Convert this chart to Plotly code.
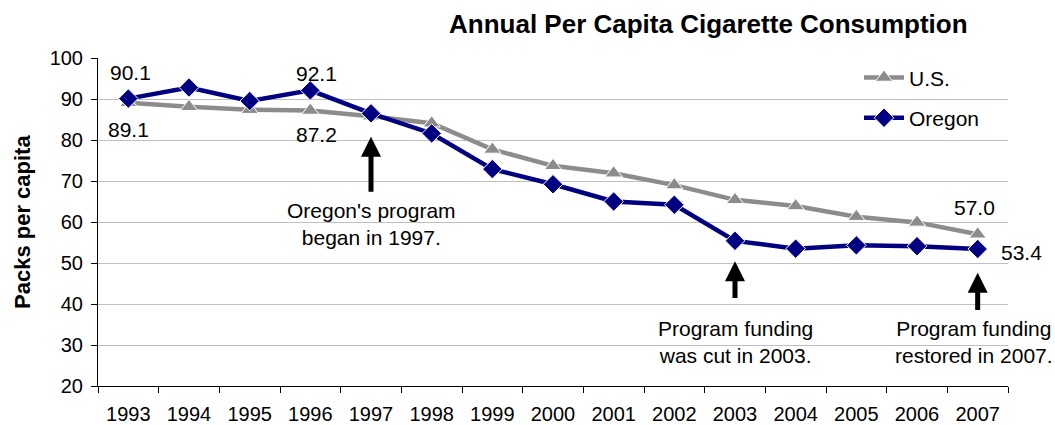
import plotly.graph_objects as go

years = [1993, 1994, 1995, 1996, 1997, 1998, 1999, 2000,
         2001, 2002, 2003, 2004, 2005, 2006, 2007]
year_labels = [str(y) for y in years]
us_values = [89.1, 88.1, 87.4, 87.2, 85.8, 84.1, 77.7, 73.7, 71.9, 69.0,
             65.4, 63.9, 61.3, 59.9, 57.0]
oregon_values = [90.1, 92.8, 89.5, 92.1, 86.5, 81.6, 72.9, 69.2, 65.0, 64.2,
                 55.4, 53.5, 54.3, 54.1, 53.4]

FONT = "Liberation Sans, Arial, sans-serif"
US_COLOR = "#8C8C8C"
OR_COLOR = "#000080"

fig = go.Figure()
fig.add_trace(go.Scatter(
    x=years, y=us_values, name="U.S.", mode="lines+markers",
    line=dict(color=US_COLOR, width=4.5),
    marker=dict(symbol="triangle-up", size=15, color=US_COLOR,
                line=dict(color="white", width=1)),
    legendgroup="us",
))
fig.add_trace(go.Scatter(
    x=years, y=oregon_values, name="Oregon", mode="lines+markers",
    line=dict(color=OR_COLOR, width=4.5),
    marker=dict(symbol="diamond", size=15, color=OR_COLOR,
                line=dict(color="white", width=1)),
    legendgroup="or",
))

annotations = []
label_font = dict(family=FONT, size=21, color="black")
label_specs = [(oregon_values, 0, 2, 26), (us_values, 0, 0, -27),
               (oregon_values, 3, 6, 17), (us_values, 3, 6, -24),
               (us_values, 14, -3, 27), (oregon_values, 14, 44, -3)]
for series, idx, xs, ys in label_specs:
    annotations.append(dict(x=years[idx], y=series[idx], text=f"{series[idx]:.1f}",
                            showarrow=False, xshift=xs, yshift=ys, font=label_font))

arrow_specs = [(1997, 80.8, 67.0), (2003, 50.4, 41.1), (2007, 47.6, 38.2)]
for xv, head, tail in arrow_specs:
    annotations.append(dict(x=xv, y=head, ax=xv, ay=tail, axref="x", ayref="y",
                            showarrow=True, arrowhead=2, arrowsize=0.8, arrowwidth=5,
                            arrowcolor="black", text=""))

note_specs = [(1997, 59.6, 0, "Oregon's program<br>began in 1997."),
              (2003, 30.7, 0, "Program funding<br>was cut in 2003."),
              (2007, 30.7, -4, "Program funding<br>restored in 2007.")]
for xv, yv, xs, txt in note_specs:
    annotations.append(dict(x=xv, y=yv, text=txt, showarrow=False, xshift=xs,
                            font=label_font, align="center"))

annotations.append(dict(xref="paper", yref="paper", x=(708.5 - 98) / 910, y=1, yshift=34,
                        text="<b>Annual Per Capita Cigarette Consumption</b>",
                        showarrow=False, font=dict(family=FONT, size=26, color="black"),
                        xanchor="center", yanchor="middle"))
annotations.append(dict(xref="paper", yref="paper", x=(22 - 98) / 910, y=0.5,
                        text="<b>Packs per capita</b>", textangle=-90,
                        showarrow=False, font=dict(family=FONT, size=22, color="black"),
                        xanchor="center", yanchor="middle"))

fig.update_layout(
    width=1055, height=425,
    margin=dict(l=98, r=47, t=58, b=39, autoexpand=False),
    paper_bgcolor="white", plot_bgcolor="white",
    font=dict(family=FONT, size=20, color="black"),
    showlegend=True,
    legend=dict(x=(859 - 98) / 910, y=1.002, xanchor="left", yanchor="top",
                bgcolor="rgba(0,0,0,0)", font=dict(family=FONT, size=21),
                tracegroupgap=10, itemwidth=40, traceorder="grouped"),
    annotations=annotations,
    shapes=[dict(type="rect", xref="paper", yref="paper", x0=0.793, x1=1.0,
                 y0=0.753, y1=0.997, fillcolor="white", line=dict(width=0),
                 layer="between")],
)
fig.update_xaxes(range=[years[0] - 0.5, years[-1] + 0.5], automargin=False,
                 tickmode="array", tickvals=years, ticktext=year_labels,
                 ticks="", showgrid=False, showline=True, linecolor="black",
                 linewidth=1, tickfont=dict(family=FONT, size=20),
                 ticklabelstandoff=10, zeroline=False,
                 minor=dict(tickmode="array", tickvals=[y - 0.5 for y in years] + [years[-1] + 0.5],
                            ticks="outside", ticklen=6, tickcolor="black", showgrid=False))
fig.update_yaxes(range=[20, 100], dtick=10, showgrid=True, gridcolor="#BFBFBF",
                 gridwidth=1, showline=True, linecolor="black", linewidth=1,
                 ticks="outside", ticklen=6, tickcolor="black", automargin=False,
                 tickfont=dict(family=FONT, size=20), zeroline=False,
                 ticklabelstandoff=4)

fig.write_html("out.html", config={"displayModeBar": False},
               post_script="document.body.style.margin='0px';document.body.style.overflow='hidden';")
